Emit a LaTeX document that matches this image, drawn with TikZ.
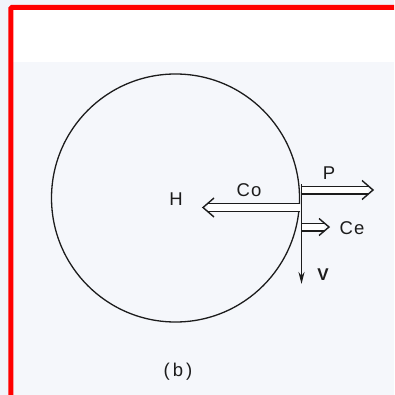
\documentclass[tikz,border=0pt]{standalone}
\usepackage{fontspec}
\setmainfont{Liberation Sans}
\usetikzlibrary{arrows.meta,positioning,calc}
\definecolor{FrameRed}{RGB}{255,0,0}
\definecolor{PaperBlue}{HTML}{F1F4FA}
\definecolor{ScanGrey}{HTML}{F5F7FB}
\definecolor{InkBlack}{HTML}{1C1C1C}

\begin{document}
\begin{tikzpicture}[x=1pt,y=-1pt,
  force/.style={InkBlack,line width=1.3pt,double=white,double distance=6.4pt},
  barb/.style={InkBlack,line width=1.4pt,line join=miter},
  lbl/.style={InkBlack,inner sep=0pt,font=\fontsize{18.5}{20}\selectfont}]
  \useasboundingbox (0,0) rectangle (394,395);
  \fill[PaperBlue] (0,0) rectangle (394,395);
  \fill[white] (13,10) rectangle (394,62);
  \fill[ScanGrey] (13,62) rectangle (394,395);
  \draw[FrameRed,line width=5pt,rounded corners=1pt] (10.8,395) -- (10.8,7.5) -- (394,7.5);
  % ball and the forces on its rim
  \node[circle,draw=InkBlack,line width=1.3pt,minimum size=248pt,inner sep=0pt] (ball) at (175.5,198) {};
  \coordinate (vtop) at (301.5,184);
  \coordinate (vtip) at (301.5,284);
  \coordinate (cotail) at (300,207.5);
  \coordinate (cohead) at (203,207.5);
  \coordinate (ptail) at (302,190);
  \coordinate (phead) at (373,190);
  \coordinate (cetail) at (302,227);
  \coordinate (cehead) at (329,227);
  \draw[force] (cotail) -- ($(cohead)+(5,0)$);
  \draw[barb] ($(cohead)+(11,-9.5)$) -- (cohead) -- ($(cohead)+(11,9.5)$);
  \draw[force] (ptail) -- ($(phead)+(-5,0)$);
  \draw[barb] ($(phead)+(-11,-9.5)$) -- (phead) -- ($(phead)+(-11,9.5)$);
  \draw[force] (cetail) -- ($(cehead)+(-5,0)$);
  \draw[barb] ($(cehead)+(-10,-8.5)$) -- (cehead) -- ($(cehead)+(-10,8.5)$);
  \draw[InkBlack,line width=1.8pt,-{Stealth[length=12pt,width=6pt]}] (vtop) -- (vtip);
  \node[lbl] (H) at (176,199) {H};
  \node[lbl] (Co) at (249,190) {C\kern1pt o};
  \node[lbl] (P) at (329,173) {P};
  \node[lbl] (Ce) at (352,228) {C\kern1pt e};
  \node[lbl,font=\fontsize{17}{20}\selectfont\bfseries] (v) at (323,275) {V};
  \node[lbl] (caption) at (178,372) {(\kern3pt b\kern3pt)};
\end{tikzpicture}
\end{document}
